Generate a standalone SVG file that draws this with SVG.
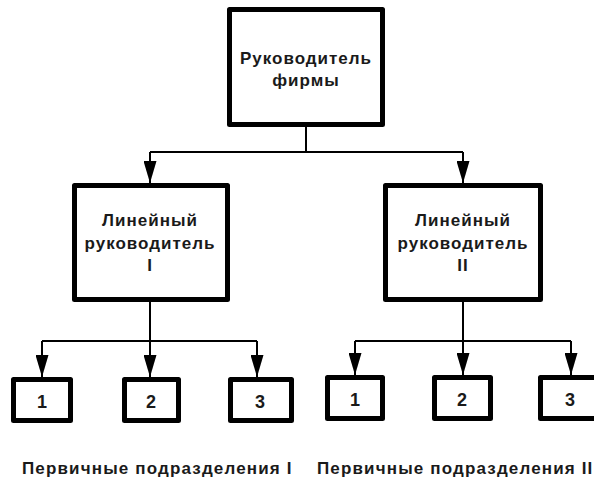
<svg xmlns="http://www.w3.org/2000/svg" width="594" height="483" viewBox="0 0 594 483">
<style>
.box{fill:#fff;stroke:#000;stroke-width:5;stroke-linejoin:round}
.t{font-family:"Liberation Sans",Arial,sans-serif;font-weight:bold;font-size:17px;letter-spacing:1px;fill:#1a1a1a;text-anchor:middle}
.n{font-size:18px;letter-spacing:0}
.lbl{font-family:"Liberation Sans",Arial,sans-serif;font-weight:bold;font-size:17px;letter-spacing:1.15px;fill:#1a1a1a}
.c{fill:none;stroke:#000;stroke-width:2}
</style>
<defs>
<marker id="ah" markerUnits="userSpaceOnUse" markerWidth="22" markerHeight="13" viewBox="0 0 22 13" refX="22" refY="6.5" orient="auto">
<path d="M0,0 L22,6.5 L0,13 Z" fill="#000"/>
</marker>
</defs>
<rect width="594" height="483" fill="#fff"/>
<g id="connectors">
<path class="c" d="M306,127 V152 M150,152 H463"/>
<path class="c" d="M150,152 V183" marker-end="url(#ah)"/>
<path class="c" d="M463,152 V183" marker-end="url(#ah)"/>
<path class="c" d="M150,302 V341 M42,341 H257"/>
<path class="c" d="M42,341 V377" marker-end="url(#ah)"/>
<path class="c" d="M150,341 V377" marker-end="url(#ah)"/>
<path class="c" d="M257,341 V377" marker-end="url(#ah)"/>
<path class="c" d="M463,302 V341 M355,341 H571"/>
<path class="c" d="M355,341 V375" marker-end="url(#ah)"/>
<path class="c" d="M463,341 V375" marker-end="url(#ah)"/>
<path class="c" d="M571,341 V375" marker-end="url(#ah)"/>
</g>
<g id="head">
<rect class="box" x="229.5" y="9.5" width="153" height="115"/>
<text class="t" x="306" y="64">Руководитель</text>
<text class="t" x="306" y="86">фирмы</text>
</g>
<g id="line1">
<rect class="box" x="74.5" y="185.5" width="153" height="114"/>
<text class="t" x="150" y="226">Линейный</text>
<text class="t" x="150" y="249">руководитель</text>
<text class="t" x="150" y="271">I</text>
</g>
<g id="line2">
<rect class="box" x="385.5" y="185.5" width="155" height="114"/>
<text class="t" x="463" y="226">Линейный</text>
<text class="t" x="463" y="249">руководитель</text>
<text class="t" x="463" y="271">II</text>
</g>
<g id="u1-1"><rect class="box" x="13.5" y="379.5" width="57" height="41"/><text class="t n" x="42" y="408">1</text></g>
<g id="u1-2"><rect class="box" x="124.5" y="379.5" width="54" height="41"/><text class="t n" x="151" y="408">2</text></g>
<g id="u1-3"><rect class="box" x="230.5" y="379.5" width="61" height="41"/><text class="t n" x="260" y="408">3</text></g>
<g id="u2-1"><rect class="box" x="327.5" y="377.5" width="55" height="41"/><text class="t n" x="355" y="406">1</text></g>
<g id="u2-2"><rect class="box" x="434.5" y="377.5" width="56" height="41"/><text class="t n" x="462" y="406">2</text></g>
<g id="u2-3"><rect class="box" x="540.5" y="377.5" width="70" height="41"/><text class="t n" x="570" y="406">3</text></g>
<g id="labels">
<text class="lbl" x="22" y="474">Первичные подразделения I</text>
<text class="lbl" x="317" y="474">Первичные подразделения II</text>
</g>
</svg>
